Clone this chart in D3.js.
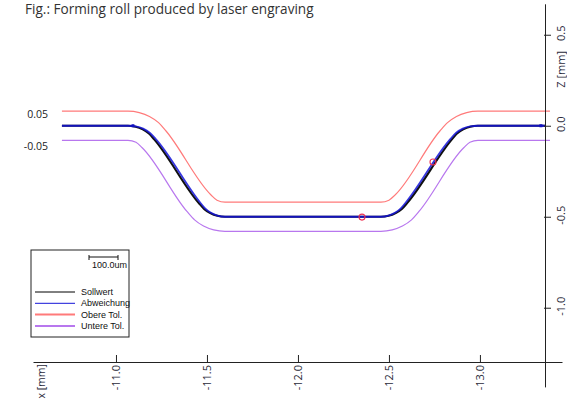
<!DOCTYPE html>
<html>
<head>
<meta charset="utf-8">
<script src="https://cdn.jsdelivr.net/npm/d3@7"></script>
<style>
  html, body { margin: 0; padding: 0; background: #fff; }
  svg { display: block; }
</style>
</head>
<body>
<div id="chart"></div>
<script>
// --- data (mm) ---
const sollwert = [
  [-10.703, 0], [-11.066, 0], [-11.108, -0.005], [-11.147, -0.020], [-11.181, -0.043],
  [-11.210, -0.075], [-11.455, -0.425], [-11.484, -0.457], [-11.518, -0.480], [-11.557, -0.495],
  [-11.599, -0.500], [-12.456, -0.500], [-12.498, -0.495], [-12.537, -0.480], [-12.571, -0.457],
  [-12.600, -0.425], [-12.846, -0.075], [-12.874, -0.043], [-12.908, -0.020], [-12.947, -0.005],
  [-12.989, 0], [-13.357, 0]
];
// deviation of the measured profile at each Sollwert point (um)
const abweichungUm = [0, 0, 1, 3, 4, 5, 5, 4, 2, 1, 0, 0, 1, 2, 4, 5, 5, 4, 3, 1, 0, 0];

const obereTol = [
  [-10.703, 0.080], [-11.066, 0.080], [-11.128, 0.072], [-11.184, 0.051], [-11.234, 0.017],
  [-11.275, -0.029], [-11.521, -0.379], [-11.555, -0.409], [-11.599, -0.420], [-12.456, -0.420],
  [-12.500, -0.409], [-12.535, -0.379], [-12.780, -0.029], [-12.822, 0.017], [-12.871, 0.051],
  [-12.927, 0.072], [-12.989, 0.080], [-13.385, 0.080]
];
const untereTol = [
  [-10.703, -0.080], [-11.066, -0.080], [-11.110, -0.091], [-11.144, -0.121], [-11.390, -0.471],
  [-11.432, -0.517], [-11.481, -0.551], [-11.537, -0.572], [-11.599, -0.580], [-12.456, -0.580],
  [-12.518, -0.572], [-12.574, -0.551], [-12.624, -0.517], [-12.665, -0.471], [-12.911, -0.121],
  [-12.945, -0.091], [-12.989, -0.080], [-13.385, -0.080]
];
const marked = [[-12.742, -0.199], [-12.352, -0.502]];
const support = [[-11.093, 0], [-13.335, 0]];

const xTicks = [-11.0, -11.5, -12.0, -12.5, -13.0];
const zTicks = [0.5, 0.0, -0.5, -1.0];
const tolLabels = ['0.05', '-0.05'];
const legendNames = ['Sollwert', 'Abweichung', 'Obere Tol.', 'Untere Tol.'];
const legendColors = ['#000000', '#1414d8', '#ff7a7a', '#b877ee'];
const scaleBarUm = 100;

// --- layout ---
const W = 567, H = 399;
const umPx = 0.29;           // deviation display scale (px per um)
const xAxisZ = -1.30, zAxisX = -13.36;

const x = d3.scaleLinear().domain([-10.544, -13.451]).range([33, 562]);
const y = d3.scaleLinear().domain([0.67, -1.435]).range([3.8, 386.9]);

const svg = d3.select('#chart').append('svg').attr('width', W).attr('height', H);

const line = d3.line().x(d => d[0]).y(d => d[1]).curve(d3.curveMonotoneX);
const proj = pts => pts.map(d => [x(d[0]), y(d[1])]);

// title
svg.append('text')
  .attr('x', 25).attr('y', 14)
  .attr('font-family', 'Open Sans, sans-serif').attr('font-size', 13.6)
  .attr('fill', '#333')
  .text('Fig.: Forming roll produced by laser engraving');

// tolerance curves
svg.append('path').attr('d', line(proj(obereTol)))
  .attr('fill', 'none').attr('stroke', legendColors[2]).attr('stroke-width', 1.2);
svg.append('path').attr('d', line(proj(untereTol)))
  .attr('fill', 'none').attr('stroke', legendColors[3]).attr('stroke-width', 1.2);

// nominal
const nomPx = proj(sollwert);
svg.append('path').attr('d', line(nomPx))
  .attr('fill', 'none').attr('stroke', '#111').attr('stroke-width', 2.1);

// measured = nominal shifted along the normal by the deviation
const measPx = nomPx.map((p, i) => {
  const a = nomPx[Math.max(0, i - 1)], b = nomPx[Math.min(nomPx.length - 1, i + 1)];
  const dx = b[0] - a[0], dy = b[1] - a[1], len = Math.hypot(dx, dy) || 1;
  const off = abweichungUm[i] * umPx;
  return [p[0] + dy / len * off, p[1] - dx / len * off];
});
svg.append('path').attr('d', line(measPx))
  .attr('fill', 'none').attr('stroke', legendColors[1]).attr('stroke-width', 1.8)
  .attr('stroke-opacity', 0.85);

svg.selectAll('rect.sup').data(support).join('rect')
  .attr('class', 'sup')
  .attr('x', d => x(d[0]) - 1.5).attr('y', d => y(d[1]) - 1.5)
  .attr('width', 3).attr('height', 3).attr('fill', '#1010c0');

// marked points
svg.selectAll('circle.mark').data(marked).join('circle')
  .attr('class', 'mark')
  .attr('cx', d => x(d[0])).attr('cy', d => y(d[1])).attr('r', 3)
  .attr('fill', 'none').attr('stroke', '#ee3355').attr('stroke-width', 1.1);

// tolerance labels
svg.selectAll('text.tol').data(tolLabels).join('text')
  .attr('class', 'tol')
  .attr('x', 48)
  .attr('y', (d, i) => i === 0 ? y(0.080) + 3 : y(-0.080) + 6)
  .attr('dy', '0.35em')
  .attr('text-anchor', 'end')
  .attr('font-family', 'Open Sans, sans-serif').attr('font-size', 10.5)
  .attr('fill', '#222')
  .text(d => d);

// x axis
const xAxis = svg.append('g')
  .attr('transform', `translate(0,${Math.round(y(xAxisZ))})`)
  .call(d3.axisTop(x).tickValues(xTicks).tickFormat(d => d.toFixed(1)).tickSize(7).tickSizeOuter(0));
xAxis.select('.domain').attr('stroke', '#222');
xAxis.selectAll('.tick line').attr('stroke', '#222');
xAxis.selectAll('.tick text')
  .attr('transform', 'rotate(-90)')
  .attr('x', -3).attr('y', 0).attr('dy', '0.36em')
  .attr('text-anchor', 'end')
  .attr('font-family', 'Open Sans, sans-serif').attr('font-size', 11)
  .attr('fill', '#2a2a3a');
xAxis.append('text')
  .attr('transform', 'translate(41,2) rotate(-90)')
  .attr('dy', '0.36em')
  .attr('text-anchor', 'end')
  .attr('font-family', 'Open Sans, sans-serif').attr('font-size', 10.5)
  .attr('fill', '#2a2a3a')
  .text('x [mm]');

// z axis
const zAxis = svg.append('g')
  .attr('transform', `translate(${Math.round(x(zAxisX))},0)`)
  .call(d3.axisRight(y).tickValues(zTicks).tickFormat(d => d.toFixed(1)).tickSize(7).tickSizeOuter(0));
zAxis.select('.domain').attr('stroke', '#222');
zAxis.selectAll('.tick line').attr('stroke', '#222').attr('x1', -1).attr('x2', 6);
zAxis.selectAll('.tick text')
  .attr('transform', 'rotate(-90)')
  .attr('x', 2).attr('y', 16).attr('dy', '0.36em')
  .attr('text-anchor', 'middle')
  .attr('font-family', 'Open Sans, sans-serif').attr('font-size', 11)
  .attr('fill', '#2a2a3a');
zAxis.append('text')
  .attr('transform', `translate(16,${y(0.31)}) rotate(-90)`)
  .attr('dy', '0.36em')
  .attr('text-anchor', 'middle')
  .attr('font-family', 'Open Sans, sans-serif').attr('font-size', 11)
  .attr('fill', '#2a2a3a')
  .text('Z [mm]');

// legend
const lg = svg.append('g').attr('transform', 'translate(31,250)');
lg.append('rect').attr('width', 98).attr('height', 87)
  .attr('fill', '#fff').attr('stroke', '#222').attr('stroke-width', 1);
const barLen = scaleBarUm * umPx;
lg.append('path')
  .attr('d', `M${58},${5}v5M${58},${7}h${barLen}M${58 + barLen},${5}v5`)
  .attr('stroke', '#111').attr('fill', 'none');
lg.append('text').attr('x', 61).attr('y', 18)
  .attr('font-family', 'Liberation Sans, Arial, sans-serif').attr('font-size', 9)
  .attr('fill', '#111').text(`${scaleBarUm.toFixed(1)}um`);
const rows = lg.selectAll('g.row').data(legendNames).join('g')
  .attr('class', 'row')
  .attr('transform', (d, i) => `translate(0,${42 + i * 11.3})`);
rows.append('line').attr('x1', 4).attr('x2', 44)
  .attr('stroke', (d, i) => legendColors[i])
  .attr('stroke-width', (d, i) => i >= 2 ? 2 : 1);
rows.append('text').attr('x', 50).attr('dy', '0.35em')
  .attr('font-family', 'Liberation Sans, Arial, sans-serif').attr('font-size', 9)
  .attr('fill', '#111').text(d => d);
</script>
</body>
</html>
